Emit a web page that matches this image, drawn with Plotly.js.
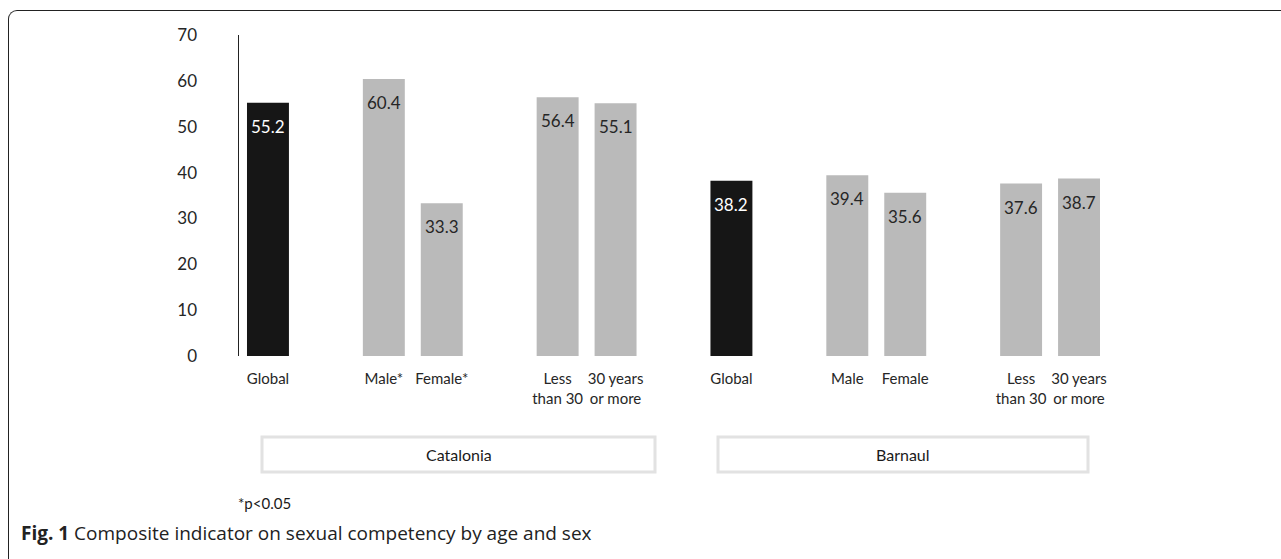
<!DOCTYPE html>
<html>
<head>
<meta charset="utf-8">
<script src="https://cdn.plot.ly/plotly-3.0.1.min.js"></script>
<style>
  html, body { margin: 0; padding: 0; background: #fff; }
  #wrap { position: relative; width: 1281px; height: 559px; overflow: hidden; }
  #frame { position: absolute; left: 8px; top: 10px; width: 1300px; height: 600px;
           border-top: 1.6px solid #222; border-left: 1.6px solid #222;
           border-top-left-radius: 9px; box-sizing: border-box; pointer-events: none; }
  #chart { position: absolute; left: 0; top: 0; }
</style>
</head>
<body>
<div id="wrap">
  <div id="chart"></div>
  <div id="frame"></div>
</div>
<script>
// ---- data ----
const categories = ['Global', '', 'Male*', 'Female*', '', 'Less<br>than 30', '30 years<br>or more', '',
                    'Global', '', 'Male', 'Female', '', 'Less<br>than 30', '30 years<br>or more'];
const values = [55.2, null, 60.4, 33.3, null, 56.4, 55.1, null,
                38.2, null, 39.4, 35.6, null, 37.6, 38.7];
const isGlobal = [true, false, false, false, false, false, false, false,
                  true, false, false, false, false, false, false];
const groupLabels = ['Catalonia', 'Barnaul'];
const yTicks = [0, 10, 20, 30, 40, 50, 60, 70];
const footnote = '*p<0.05';
const caption = '<b>Fig. 1</b> Composite indicator on sexual competency by age and sex';

// ---- build ----
const idx = categories.map((c, i) => i);
const barColors = isGlobal.map(g => g ? '#161616' : '#bababa');

const chartFont = 'Lato, "Open Sans", sans-serif';

const annotations = [];
values.forEach((v, i) => {
  if (v === null) return;
  annotations.push({
    x: idx[i], y: v, xref: 'x', yref: 'y',
    text: v.toFixed(1), showarrow: false,
    yanchor: 'top', yshift: -11,
    font: { family: chartFont, size: 17, color: isGlobal[i] ? '#ffffff' : '#262626' }
  });
});

// paper coordinate helpers (plot area: x 239..1108, y 35..356)
const L = 239, R = 1108, T = 35, B = 356;
const px = v => (v - L) / (R - L);
const py = v => (B - v) / (B - T);

const boxes = [[262, 655], [718, 1088]];
const shapes = boxes.map(b => ({
  type: 'rect', xref: 'paper', yref: 'paper',
  x0: px(b[0]), x1: px(b[1]), y0: py(472), y1: py(437),
  line: { color: '#e2e2e2', width: 3 }, fillcolor: 'rgba(0,0,0,0)'
}));
groupLabels.forEach((g, k) => {
  annotations.push({
    xref: 'paper', yref: 'paper', x: px((boxes[k][0] + boxes[k][1]) / 2), y: py(454.5),
    xanchor: 'center', yanchor: 'middle', text: g, showarrow: false,
    font: { family: chartFont, size: 16, color: '#1a1a1a' }
  });
});
annotations.push({
  xref: 'paper', yref: 'paper', x: px(236), y: py(503),
  xanchor: 'left', yanchor: 'middle', text: footnote, showarrow: false,
  font: { family: chartFont, size: 15, color: '#1a1a1a' }
});
annotations.push({
  xref: 'paper', yref: 'paper', x: px(19), y: py(533),
  xanchor: 'left', yanchor: 'middle', text: caption, showarrow: false,
  font: { family: '"Open Sans", "Noto Sans", sans-serif', size: 19, color: '#222' }
});

const trace = {
  type: 'bar', x: idx, y: values,
  marker: { color: barColors, line: { width: 0 } },
  hoverinfo: 'skip'
};

const layout = {
  width: 1281, height: 559,
  margin: { l: L, r: 1281 - R, t: T, b: 559 - B, pad: 0 },
  paper_bgcolor: 'rgba(0,0,0,0)', plot_bgcolor: 'rgba(0,0,0,0)',
  showlegend: false, bargap: 0.276,
  font: { family: chartFont, color: '#262626' },
  xaxis: {
    range: [-0.5, 14.5], tickmode: 'array', tickvals: idx, ticktext: categories,
    showline: false, showgrid: false, zeroline: false, ticks: '',
    tickfont: { family: chartFont, size: 15, color: '#262626' },
    ticklabelstandoff: 12
  },
  yaxis: {
    range: [0, 70], tickmode: 'array', tickvals: yTicks,
    showline: true, linecolor: '#222', linewidth: 1.5,
    showgrid: false, zeroline: false, ticks: '',
    tickfont: { family: chartFont, size: 17, color: '#262626' },
    ticklabelstandoff: 37
  },
  shapes: shapes,
  annotations: annotations
};

Plotly.newPlot('chart', [trace], layout, { displayModeBar: false, staticPlot: true });
</script>
</body>
</html>
